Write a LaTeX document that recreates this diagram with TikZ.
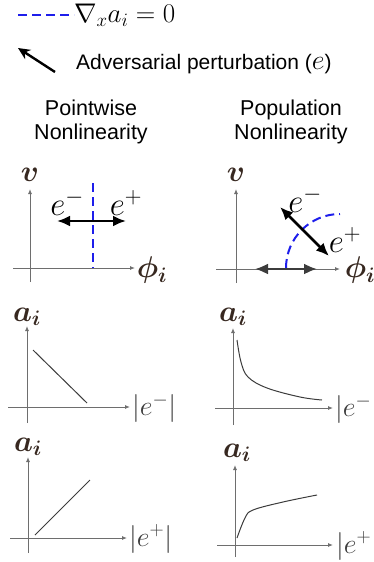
\RequirePackage{fix-cm}
\documentclass[tikz,border=0pt]{standalone}
\usepackage{amsmath,amssymb}
\usepackage[no-math]{fontspec}
\setmainfont{Liberation Sans}
\usepackage{tikz}
\usetikzlibrary{arrows.meta}
\usepackage{xcolor}
\definecolor{zero-blue}{RGB}{30,30,235}
\definecolor{axis-gray}{RGB}{110,110,110}
\definecolor{curve-gray}{RGB}{60,60,60}
\definecolor{label-ink}{RGB}{55,40,32}

\begin{document}
\begin{tikzpicture}[x=1pt, y=-1pt,
    axis/.style   = {draw=axis-gray, line width=0.9pt,
                     -{Latex[length=5pt,width=4pt]}},
    zero/.style   = {draw=zero-blue, line width=2pt,
                     dash pattern=on 9pt off 5pt},
    pert/.style   = {{Latex[length=13pt,width=11pt]}-{Latex[length=13pt,width=11pt]},
                     line width=2.6pt},
    resp/.style   = {draw=curve-gray, line width=1pt},
    axlabel/.style = {inner sep=0pt, text=label-ink,
                      font=\fontsize{30}{30}\selectfont},
    elabel/.style  = {inner sep=0pt, font=\fontsize{33}{33}\selectfont},
    mlabel/.style  = {inner sep=0pt, text=curve-gray,
                      font=\fontsize{28}{28}\selectfont},
    title/.style   = {align=center, font=\fontsize{21.5}{24}\selectfont}
  ]
    \useasboundingbox (0,0) rectangle (374,562);

    %% ---- legend ----
    \coordinate (dashA) at (18,15);
    \node[anchor=west, inner sep=0pt, font=\fontsize{27}{27}\selectfont]
      (nabla) at (74,15) {$\nabla_x a_i = 0$};
    \draw[zero] (dashA) -- (nabla.west);
    \coordinate (pertTail) at (55,72);
    \coordinate (pertTip)  at (18,48);
    \draw[line width=2.4pt, -{Stealth[length=12pt,width=11pt]}]
      (pertTail) -- (pertTip);
    \node[anchor=west, inner sep=0pt, font=\fontsize{21}{24}\selectfont]
      (pertText) at (76,64)
      {Adversarial perturbation ({\fontsize{28}{28}\selectfont$e$})};

    %% ---- column titles ----
    \node[title] (pointwise)  at (91,122)  {Pointwise\\Nonlinearity};
    \node[title] (population) at (291,122) {Population\\Nonlinearity};

    %% ---- row 1, left: pointwise decision boundary ----
    \coordinate (p1xa) at (13,268);  \coordinate (p1xb) at (135,268);
    \coordinate (p1ya) at (30,282);  \coordinate (p1yb) at (30,189);
    \draw[axis] (p1xa) -- (p1xb);
    \draw[axis] (p1ya) -- (p1yb);
    \node[axlabel] (p1v)   at (30,175)  {$\boldsymbol{v}$};
    \node[axlabel] (p1phi) at (152,270) {$\boldsymbol{\phi_i}$};
    \coordinate (p1za) at (93,183);  \coordinate (p1zb) at (93,268);
    \draw[zero] (p1za) -- (p1zb);
    \coordinate (p1ea) at (57,221);  \coordinate (p1eb) at (126,221);
    \draw[pert] (p1ea) -- (p1eb);
    \node[elabel] (p1em) at (67,203)  {$e^-$};
    \node[elabel] (p1ep) at (126,203) {$e^+$};

    %% ---- row 1, right: population decision boundary ----
    \coordinate (p2xa) at (216,269); \coordinate (p2xb) at (340,269);
    \coordinate (p2ya) at (236,283); \coordinate (p2yb) at (236,189);
    \draw[axis] (p2xa) -- (p2xb);
    \draw[axis] (p2ya) -- (p2yb);
    \node[axlabel] (p2v)   at (236,175) {$\boldsymbol{v}$};
    \node[axlabel] (p2phi) at (360,270) {$\boldsymbol{\phi_i}$};
    \coordinate (p2za) at (286,268);
    \draw[zero] (p2za) arc[start angle=180, end angle=270, radius=54];
    \coordinate (p2ea) at (280,207); \coordinate (p2eb) at (329,256);
    \draw[pert] (p2ea) -- (p2eb);
    \coordinate (p2ha) at (255,269); \coordinate (p2hb) at (317,269);
    \draw[pert, draw=curve-gray, fill=curve-gray, line width=2.2pt] (p2ha) -- (p2hb);
    \node[elabel] (p2em) at (305,200) {$e^-$};
    \node[elabel] (p2ep) at (345,240) {$e^+$};

    %% ---- row 2, left: a_i against |e^-| (linear) ----
    \coordinate (p3xa) at (8,407);   \coordinate (p3xb) at (130,407);
    \coordinate (p3ya) at (27,423);  \coordinate (p3yb) at (27,326);
    \draw[axis] (p3xa) -- (p3xb);
    \draw[axis] (p3ya) -- (p3yb);
    \node[axlabel] (p3a) at (27,317) {$\boldsymbol{a_i}$};
    \node[mlabel, anchor=west] (p3e) at (132,408) {$|e^-|$};
    \coordinate (p3ca) at (33,350);  \coordinate (p3cb) at (87,403);
    \draw[resp] (p3ca) -- (p3cb);

    %% ---- row 2, right: a_i against |e^-| (decaying) ----
    \coordinate (p4xa) at (215,408); \coordinate (p4xb) at (333,408);
    \coordinate (p4ya) at (233,425); \coordinate (p4yb) at (233,328);
    \draw[axis] (p4xa) -- (p4xb);
    \draw[axis] (p4ya) -- (p4yb);
    \node[axlabel] (p4a) at (233,317) {$\boldsymbol{a_i}$};
    \node[mlabel, anchor=west] (p4e) at (335,409) {$|e^-|$};
    \draw[resp] plot[smooth, tension=0.6] coordinates
      {(237,340) (241,362) (248,377) (267,388) (300,397) (322,400)};

    %% ---- row 3, left: a_i against |e^+| (linear) ----
    \coordinate (p5xa) at (10,538);  \coordinate (p5xb) at (127,538);
    \coordinate (p5ya) at (28,553);  \coordinate (p5yb) at (28,457);
    \draw[axis] (p5xa) -- (p5xb);
    \draw[axis] (p5ya) -- (p5yb);
    \node[axlabel] (p5a) at (28,447) {$\boldsymbol{a_i}$};
    \node[mlabel, anchor=west] (p5e) at (129,539) {$|e^+|$};
    \coordinate (p5ca) at (35,535);  \coordinate (p5cb) at (90,480);
    \draw[resp] (p5ca) -- (p5cb);

    %% ---- row 3, right: a_i against |e^+| (saturating) ----
    \coordinate (p6xa) at (217,545); \coordinate (p6xb) at (333,545);
    \coordinate (p6ya) at (235,557); \coordinate (p6yb) at (235,465);
    \draw[axis] (p6xa) -- (p6xb);
    \draw[axis] (p6ya) -- (p6yb);
    \node[axlabel] (p6a) at (237,453) {$\boldsymbol{a_i}$};
    \node[mlabel, anchor=west] (p6e) at (336,546) {$|e^+|$};
    \draw[resp] plot[smooth, tension=0.6] coordinates
      {(237,538) (245,518) (253,510) (283,502) (317,495)};

  \end{tikzpicture}
\end{document}
